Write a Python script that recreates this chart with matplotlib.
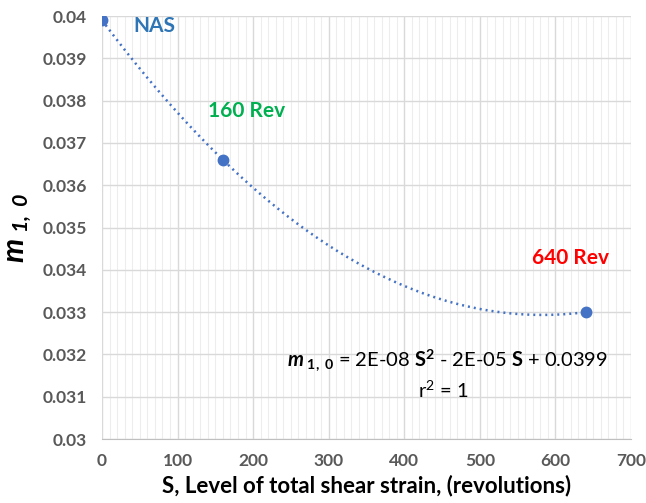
import numpy as np
import matplotlib.pyplot as plt
from matplotlib.ticker import MultipleLocator

plt.rcParams['font.family'] = ['Lato', 'DejaVu Sans']
plt.rcParams['mathtext.fontset'] = 'custom'
plt.rcParams['mathtext.rm'] = 'Lato'
plt.rcParams['mathtext.it'] = 'Lato:italic'
plt.rcParams['mathtext.bf'] = 'Lato:bold'
plt.rcParams['mathtext.bfit'] = 'Lato:bold:italic'

# shear strain levels (revolutions) and m_1,0 values
revs = [0, 160, 640]
m10 = [0.0399, 0.0366, 0.0330]
point_labels = ['NAS', '160 Rev', '640 Rev']
label_colors = ['#2E75B6', '#00B050', '#FF0000']

fig = plt.figure(figsize=(6.46, 5.03), dpi=100)
ax = fig.add_axes([102/646, 1 - 439/503, 529/646, 423/503])

# second order trendline through the points
coef = np.polyfit(revs, m10, 2)
s = np.linspace(revs[0], revs[-1], 300)
ax.plot(s, np.polyval(coef, s), color='#4472C4', lw=1.8,
        linestyle=(0, (0.8, 1.6)), zorder=3)
ax.plot(revs, m10, 'o', color='#4472C4', ms=7.5, zorder=4)

# point labels
ax.text(42, 0.03977, point_labels[0], color=label_colors[0], fontsize=15,
        fontweight='bold', va='center', ha='left')
ax.text(140, 0.03775, point_labels[1], color=label_colors[1], fontsize=15,
        fontweight='bold', va='center', ha='left')
ax.text(620, 0.03428, point_labels[2], color=label_colors[2], fontsize=15,
        fontweight='bold', va='center', ha='center')

# trendline equation
ax.text(669, 0.03187,
        r'$\mathbfit{m}_{\ \mathbf{1,\ 0}}$ = 2E-08 $\mathbf{S}^{\mathbf{2}}$ - 2E-05 $\mathbf{S}$ + 0.0399',
        fontsize=14.5, ha='right', va='center', color='black')
ax.text(452, 0.03116, r'$\mathrm{r}^{2}$ = 1', fontsize=14.5,
        ha='center', va='center', color='black')

ax.set_xlim(0, 700)
ax.set_ylim(0.03, 0.04)
ax.xaxis.set_major_locator(MultipleLocator(100))
ax.xaxis.set_minor_locator(MultipleLocator(10))
ax.yaxis.set_major_locator(MultipleLocator(0.001))
ax.yaxis.set_major_formatter(plt.FuncFormatter(lambda v, p: f'{v:g}'))

ax.grid(which='major', color='#D9D9D9', lw=1)
ax.grid(which='minor', axis='x', color='#EDEDED', lw=0.8)
ax.set_axisbelow(True)
for side in ['top', 'right', 'left']:
    ax.spines[side].set_visible(False)
ax.spines['bottom'].set_color('#BFBFBF')
ax.tick_params(which='both', length=0)
ax.tick_params(axis='x', pad=10)
ax.tick_params(axis='y', pad=11)
for lbl in ax.get_xticklabels() + ax.get_yticklabels():
    lbl.set_fontsize(12.5)
    lbl.set_fontweight('bold')
    lbl.set_color('#595959')

ax.set_xlabel('S, Level of total shear strain, (revolutions)', fontsize=16,
              fontweight='bold', labelpad=4)
ax.set_ylabel(r'$\mathbfit{m}_{\ \mathbfit{1,\ 0}}$', fontsize=22, labelpad=6)

fig.savefig('out.png', dpi=100)
